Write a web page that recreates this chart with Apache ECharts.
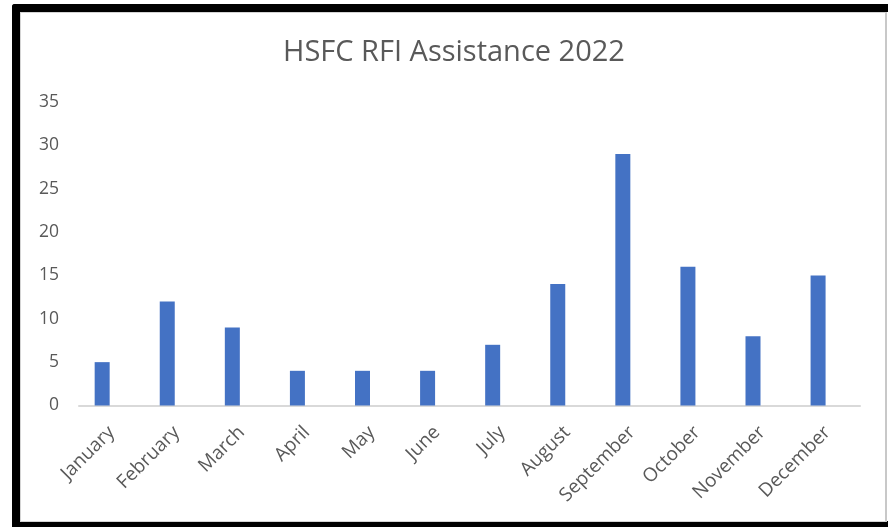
<!DOCTYPE html>
<html>
<head>
<meta charset="utf-8">
<script src="https://cdn.jsdelivr.net/npm/echarts@6/dist/echarts.min.js"></script>
<style>
  html, body { margin: 0; padding: 0; background: #fff; }
  #wrap { position: relative; width: 888px; height: 527px; overflow: hidden; }
  #chart { position: absolute; left: 0; top: 0; width: 888px; height: 527px; }
  .frame { position: absolute; pointer-events: none; }
</style>
</head>
<body>
<div id="wrap">
  <div id="chart"></div>
  <!-- black frame around the chart area -->
  <div class="frame" style="left:12px; top:4px; width:876px; height:8px; background:#000; border-top-left-radius:3px;"></div>
  <div class="frame" style="left:12px; top:4px; width:8px; height:523px; background:#000; border-top-left-radius:3px;"></div>
  <div class="frame" style="left:12px; top:521px; width:876px; height:6px; background:#000;"></div>
  <div class="frame" style="left:20px; top:12px; width:864px; height:508px; border:1px solid #d4d4d4; border-right:2px solid #c8c8c8;"></div>
</div>
<script>
const months = ['January', 'February', 'March', 'April', 'May', 'June',
  'July', 'August', 'September', 'October', 'November', 'December'];
const requests = [5, 12, 9, 4, 4, 4, 7, 14, 29, 16, 8, 15];
// second cluster slot is left empty, so each bar sits left of its category centre
const emptySeries = [];
const chartTitle = 'HSFC RFI Assistance 2022';

const chart = echarts.init(document.getElementById('chart'), null, { renderer: 'canvas' });
chart.setOption({
  backgroundColor: '#fff',
  animation: false,
  title: {
    text: chartTitle,
    left: 278,
    top: 33,
    textStyle: { fontFamily: 'Open Sans', fontSize: 29, fontWeight: 'normal', color: '#595959' }
  },
  grid: { left: 79, right: 28, top: 102, bottom: 121.5, outerBoundsMode: 'none', containLabel: false },
  xAxis: {
    type: 'category',
    data: months,
    axisLine: { lineStyle: { color: '#d9d9d9', width: 2 } },
    axisTick: { show: false },
    axisLabel: {
      rotate: 45,
      interval: 0,
      margin: 24,
      fontFamily: 'Open Sans',
      fontSize: 19,
      color: '#595959'
    }
  },
  yAxis: {
    type: 'value',
    min: 0,
    max: 35,
    interval: 5,
    splitLine: { show: false },
    axisLine: { show: false },
    axisTick: { show: false },
    axisLabel: {
      margin: 20,
      fontFamily: 'Open Sans',
      fontSize: 17.5,
      color: '#595959'
    }
  },
  series: [{
    type: 'bar',
    data: requests,
    barWidth: 15,
    barGap: '25%',
    itemStyle: { color: '#4472C4' }
  }, {
    type: 'bar',
    data: emptySeries,
    barWidth: 15,
    barGap: '25%',
    itemStyle: { color: '#ED7D31' }
  }]
});
</script>
</body>
</html>
